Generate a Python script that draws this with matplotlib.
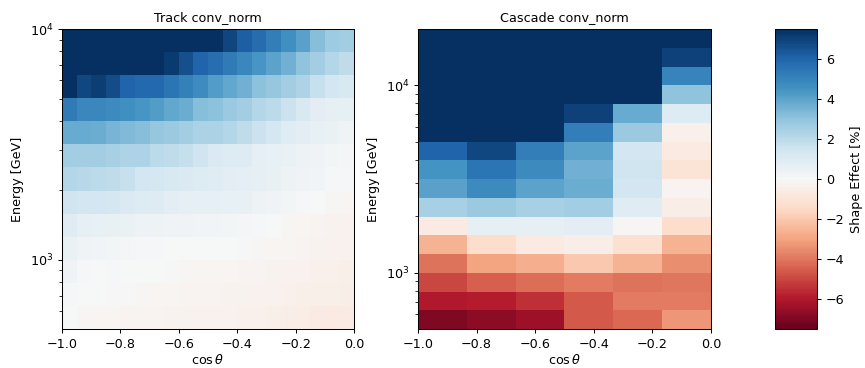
import numpy as np
import matplotlib
matplotlib.use("Agg")
import matplotlib.pyplot as plt

# ---------------------------------------------------------------- data
# Track: 20 cos(theta) bins x 13 log-energy bins (rows listed low -> high energy)
track_cos_edges = np.linspace(-1.0, 0.0, 21)
track_e_edges = np.logspace(2.7, 4.0, 14)
track_vals = [
    [0.05, -0.1, -0.12, -0.12, -0.2, -0.18, -0.2, -0.25, -0.25, -0.3, -0.3, -0.35, -0.37, -0.4, -0.45, -0.5, -0.55, -0.6, -0.7, -0.6],
    [0.1, 0.05, 0.02, -0.05, -0.05, -0.1, -0.12, -0.15, -0.2, -0.2, -0.2, -0.25, -0.25, -0.3, -0.3, -0.38, -0.42, -0.45, -0.45, -0.5],
    [0.3, 0.1, 0.05, 0.07, 0.05, 0.02, 0.0, -0.05, -0.1, -0.15, -0.15, -0.17, -0.2, -0.22, -0.25, -0.3, -0.35, -0.38, -0.4, -0.42],
    [0.5, 0.3, 0.25, 0.2, 0.15, 0.1, 0.1, 0.05, 0.0, 0.0, 0.0, 0.02, -0.05, -0.1, -0.12, -0.15, -0.2, -0.25, -0.3, -0.3],
    [0.9, 0.7, 0.6, 0.55, 0.5, 0.45, 0.4, 0.35, 0.3, 0.25, 0.25, 0.2, 0.15, 0.1, 0.0, -0.1, -0.15, -0.2, -0.25, -0.3],
    [1.5, 1.4, 1.4, 1.3, 1.1, 1.0, 0.95, 0.8, 0.7, 0.65, 0.7, 0.6, 0.55, 0.4, 0.35, 0.2, 0.1, 0.05, -0.1, -0.15],
    [2.2, 2.1, 2.0, 1.9, 1.7, 1.4, 1.3, 1.2, 1.1, 1.0, 0.9, 0.8, 0.75, 0.65, 0.55, 0.4, 0.35, 0.25, 0.1, 0.1],
    [2.6, 2.6, 2.6, 2.5, 2.3, 2.3, 2.0, 1.9, 1.8, 1.5, 1.1, 1.0, 0.95, 0.7, 0.6, 0.5, 0.4, 0.3, 0.2, 0.15],
    [3.8, 3.8, 3.7, 3.5, 3.3, 3.2, 2.9, 2.8, 2.6, 2.4, 2.4, 2.2, 1.9, 1.6, 1.3, 0.9, 0.8, 0.6, 0.5, 0.3],
    [5.3, 4.9, 4.9, 4.8, 4.6, 4.4, 4.2, 3.9, 3.7, 3.2, 3.1, 2.8, 2.6, 2.2, 2.0, 1.6, 1.2, 0.8, 0.7, 0.7],
    [7.6, 6.8, 7.1, 6.7, 6.0, 5.9, 5.9, 5.5, 5.1, 4.7, 4.2, 3.9, 3.6, 3.1, 2.9, 2.6, 2.3, 1.7, 1.4, 1.2],
    [8.5, 8.5, 8.5, 8.5, 8.5, 8.5, 7.7, 7.2, 6.6, 6.0, 5.7, 5.3, 4.9, 4.4, 4.0, 3.6, 3.0, 2.6, 2.2, 1.9],
    [8.5, 8.5, 8.5, 8.5, 8.5, 8.5, 8.5, 8.5, 8.5, 8.5, 7.6, 6.9, 6.2, 5.8, 5.2, 4.6, 4.1, 3.2, 2.7, 2.6],
]

# Cascade: 6 cos(theta) bins x 16 log-energy bins (rows low -> high energy)
cascade_cos_edges = np.linspace(-1.0, 0.0, 7)
cascade_e_edges = np.logspace(2.7, 4.3, 17)
cascade_vals = [
    [-7.0, -6.7, -6.4, -4.6, -4.3, -3.3],
    [-6.0, -5.9, -5.5, -4.6, -3.9, -3.9],
    [-5.0, -4.5, -4.2, -3.9, -4.1, -4.0],
    [-4.1, -3.0, -2.7, -2.0, -2.6, -3.5],
    [-2.6, -1.4, -0.7, -0.5, -1.2, -2.6],
    [-0.7, 0.7, 0.7, 0.8, -0.1, -1.4],
    [2.5, 2.8, 2.5, 2.6, 0.9, -0.5],
    [4.1, 4.8, 4.0, 3.7, 1.4, -0.2],
    [4.5, 5.5, 4.8, 3.6, 1.5, -1.0],
    [6.0, 6.8, 5.2, 4.0, 1.4, -0.7],
    [9.0, 9.0, 9.0, 5.2, 2.8, -0.4],
    [9.0, 9.0, 9.0, 7.0, 3.8, 1.0],
    [9.0, 9.0, 9.0, 9.0, 9.0, 3.0],
    [9.0, 9.0, 9.0, 9.0, 9.0, 5.0],
    [9.0, 9.0, 9.0, 9.0, 9.0, 7.0],
    [9.0, 9.0, 9.0, 9.0, 9.0, 9.0],
]

titles = ["Track conv_norm", "Cascade conv_norm"]
vlim = 7.5

# ---------------------------------------------------------------- plot
DPI = 92
fig = plt.figure(figsize=(865 / DPI, 368 / DPI), dpi=DPI)
ax0 = fig.add_axes([0.0717, 0.106, 0.3376, 0.815])
ax1 = fig.add_axes([0.4832, 0.106, 0.3387, 0.815])
cax = fig.add_axes([0.896, 0.106, 0.0486, 0.815])

panels = (
    (ax0, track_cos_edges, track_e_edges, track_vals, titles[0]),
    (ax1, cascade_cos_edges, cascade_e_edges, cascade_vals, titles[1]),
)
for ax, xe, ye, z, title in panels:
    mesh = ax.pcolormesh(xe, ye, np.array(z), cmap="RdBu", vmin=-vlim, vmax=vlim)
    ax.set_yscale("log")
    ax.set_xlim(xe[0], xe[-1])
    ax.set_ylim(ye[0], ye[-1])
    ax.set_title(title, fontsize=10)
    ax.set_xlabel(r"$\cos\theta$", labelpad=2)
    ax.set_ylabel("Energy [GeV]")

cb = fig.colorbar(mesh, cax=cax)
cb.set_label("Shape Effect [%]")

fig.savefig("out.png", dpi=DPI)
